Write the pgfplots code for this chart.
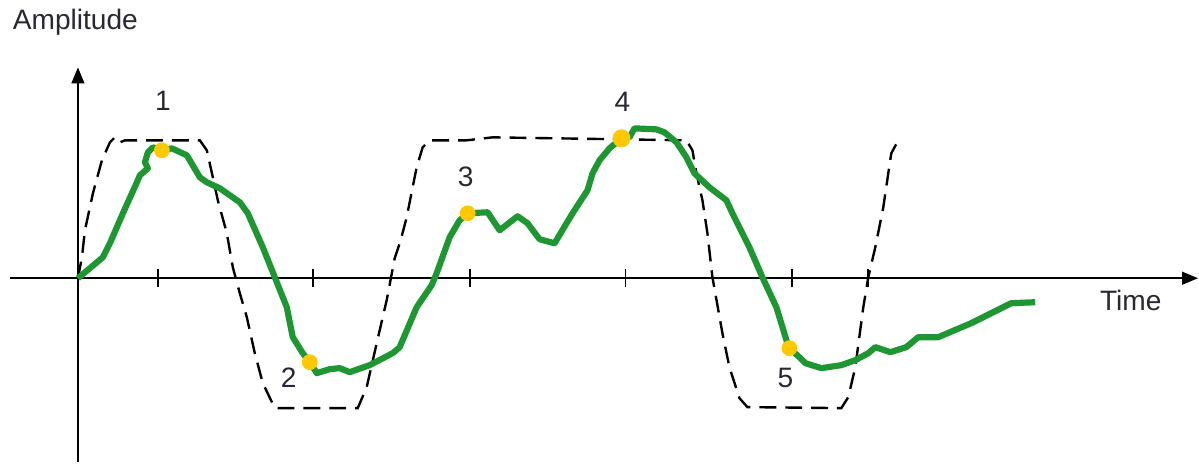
\documentclass[border=0pt]{standalone}
\usepackage{fontspec}
\setmainfont{Liberation Sans}
\usepackage{pgfplots}
\pgfplotsset{compat=1.18}
\usetikzlibrary{arrows.meta}

\definecolor{sig}{RGB}{30,150,50}
\definecolor{dot}{RGB}{255,200,0}
\definecolor{txt}{RGB}{40,40,50}

\begin{document}
\begin{tikzpicture}
\begin{axis}[
    scale only axis,
    width=14.8625cm, height=4.9375cm, % 1 px of the reference = 0.0125 cm
    xmin=-68, xmax=1121, ymin=-184, ymax=211,
    axis lines=middle,
    axis line style={line width=0.7pt, -{Triangle[length=0.2cm, width=0.16cm]}},
    xtick={80,235,392,548,715,791}, xticklabels={},
    ytick=\empty,
    tick align=center, major tick length=0.22cm,
    tick style={line width=0.7pt, black},
    clip=false,
    font=\fontsize{10}{12}\selectfont,
]
% reference target (dashed)
\addplot[black, line width=0.85pt, dash pattern=on 6pt off 3.2pt] coordinates {
  (0,0) (4,21) (7,48) (15,85) (24,118) (32,136) (37,141) (42,136) (47,138)
  (122,138) (129,128) (135,101) (140,78) (149,45) (155,11) (162,-15)
  (169,-39) (177,-75) (185,-105) (197,-130) (280,-130) (289,-109)
  (299,-65) (309,-22) (317,20) (323,38) (329,61) (339,111) (345,131)
  (352,138) (389,138) (415,141) (609,138) (615,128) (619,105) (625,78)
  (630,45) (635,1) (645,-55) (652,-89) (662,-120) (670,-129) (764,-130)
  (771,-119) (778,-89) (786,-29) (791,1) (798,31) (806,71) (811,105)
  (814,125) (821,138) (824,140)
};
% measured signal (green)
\addplot[sig, line width=2.2pt, line join=round] coordinates {
  (0,0) (25,21) (32,35) (45,65) (59,96) (62,103) (70,110) (67,116)
  (70,126) (75,131) (84,128) (94,130) (109,123) (122,101) (129,96)
  (142,90) (162,76) (170,65) (185,31) (197,1) (209,-29) (215,-59)
  (225,-75) (232,-84) (239,-95) (252,-91) (262,-90) (272,-94) (292,-87)
  (315,-75) (322,-69) (339,-29) (354,-7) (359,5) (372,41) (382,58)
  (390,65) (410,66) (422,48) (440,62) (450,55) (462,39) (477,35)
  (495,65) (510,88) (515,105) (522,118) (532,130) (544,140) (552,141)
  (557,150) (579,149) (587,146) (599,136) (609,121) (617,105) (632,91)
  (649,78) (655,65) (672,31) (685,1) (699,-29) (710,-65) (712,-70)
  (722,-79) (728,-85) (744,-90) (764,-87) (778,-82) (791,-75) (798,-69)
  (813,-74) (829,-69) (841,-59) (861,-59) (894,-45) (914,-35) (934,-25)
  (958,-24)
};
% sample points
\addplot[only marks, mark=*, mark size=2.6pt, mark options={fill=dot, draw=dot}]
  coordinates {(84,128) (232,-84) (390,65) (712,-70)};
\addplot[only marks, mark=*, mark size=3pt, mark options={fill=dot, draw=dot}]
  coordinates {(544,140)};
% labels
\node[txt] at (axis cs:85,178) {1};
\node[txt] at (axis cs:211,-100) {2};
\node[txt] at (axis cs:388,101) {3};
\node[txt] at (axis cs:545,177) {4};
\node[txt] at (axis cs:708,-100) {5};
\node[txt, anchor=west] at (axis cs:-75,256) {Amplitude};
\node[txt, anchor=west] at (axis cs:1013,-22) {Time};
\path (axis cs:-78,278) (axis cs:1121,-186);
\end{axis}
\end{tikzpicture}
\end{document}
